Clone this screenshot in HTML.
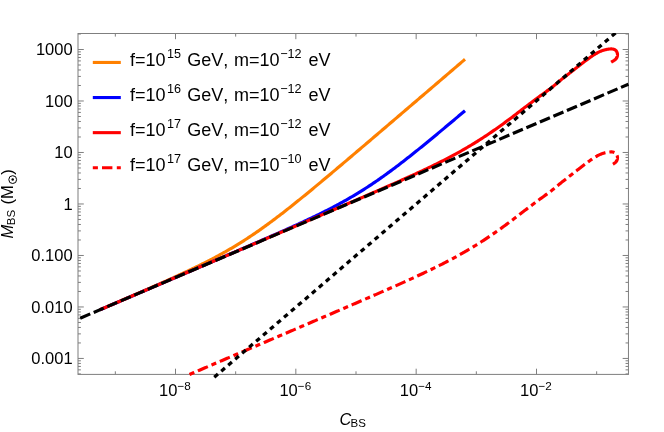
<!DOCTYPE html>
<html><head><meta charset="utf-8"><title>plot</title>
<style>
html,body{margin:0;padding:0;background:#fff;}
body{width:664px;height:432px;overflow:hidden;font-family:"Liberation Sans",sans-serif;}
svg{display:block;will-change:transform}
text{font-family:"Liberation Sans",sans-serif;fill:#000;font-kerning:none}
</style></head><body>
<svg width="664" height="432" viewBox="0 0 664 432">
<rect width="664" height="432" fill="#fff"/>
<defs><clipPath id="cp"><rect x="78.00" y="33.00" width="550.45" height="346.90"/></clipPath></defs>
<g stroke="#7f7f7f" stroke-width="1" fill="none">
<rect x="78.00" y="33.50" width="550.45" height="340.90"/>
<path d="M78.00,373.95 h2.90 M628.45,373.95 h-2.90"/>
<path d="M78.00,369.87 h2.90 M628.45,369.87 h-2.90"/>
<path d="M78.00,366.43 h2.90 M628.45,366.43 h-2.90"/>
<path d="M78.00,363.44 h2.90 M628.45,363.44 h-2.90"/>
<path d="M78.00,360.81 h2.90 M628.45,360.81 h-2.90"/>
<path d="M78.00,358.45 h5.80 M628.45,358.45 h-5.80"/>
<path d="M78.00,342.95 h2.90 M628.45,342.95 h-2.90"/>
<path d="M78.00,333.88 h2.90 M628.45,333.88 h-2.90"/>
<path d="M78.00,327.45 h2.90 M628.45,327.45 h-2.90"/>
<path d="M78.00,322.46 h2.90 M628.45,322.46 h-2.90"/>
<path d="M78.00,318.38 h2.90 M628.45,318.38 h-2.90"/>
<path d="M78.00,314.93 h2.90 M628.45,314.93 h-2.90"/>
<path d="M78.00,311.95 h2.90 M628.45,311.95 h-2.90"/>
<path d="M78.00,309.31 h2.90 M628.45,309.31 h-2.90"/>
<path d="M78.00,306.96 h5.80 M628.45,306.96 h-5.80"/>
<path d="M78.00,291.46 h2.90 M628.45,291.46 h-2.90"/>
<path d="M78.00,282.39 h2.90 M628.45,282.39 h-2.90"/>
<path d="M78.00,275.96 h2.90 M628.45,275.96 h-2.90"/>
<path d="M78.00,270.97 h2.90 M628.45,270.97 h-2.90"/>
<path d="M78.00,266.89 h2.90 M628.45,266.89 h-2.90"/>
<path d="M78.00,263.44 h2.90 M628.45,263.44 h-2.90"/>
<path d="M78.00,260.46 h2.90 M628.45,260.46 h-2.90"/>
<path d="M78.00,257.82 h2.90 M628.45,257.82 h-2.90"/>
<path d="M78.00,255.47 h5.80 M628.45,255.47 h-5.80"/>
<path d="M78.00,239.97 h2.90 M628.45,239.97 h-2.90"/>
<path d="M78.00,230.90 h2.90 M628.45,230.90 h-2.90"/>
<path d="M78.00,224.47 h2.90 M628.45,224.47 h-2.90"/>
<path d="M78.00,219.48 h2.90 M628.45,219.48 h-2.90"/>
<path d="M78.00,215.40 h2.90 M628.45,215.40 h-2.90"/>
<path d="M78.00,211.95 h2.90 M628.45,211.95 h-2.90"/>
<path d="M78.00,208.97 h2.90 M628.45,208.97 h-2.90"/>
<path d="M78.00,206.33 h2.90 M628.45,206.33 h-2.90"/>
<path d="M78.00,203.97 h5.80 M628.45,203.97 h-5.80"/>
<path d="M78.00,188.47 h2.90 M628.45,188.47 h-2.90"/>
<path d="M78.00,179.41 h2.90 M628.45,179.41 h-2.90"/>
<path d="M78.00,172.97 h2.90 M628.45,172.97 h-2.90"/>
<path d="M78.00,167.98 h2.90 M628.45,167.98 h-2.90"/>
<path d="M78.00,163.91 h2.90 M628.45,163.91 h-2.90"/>
<path d="M78.00,160.46 h2.90 M628.45,160.46 h-2.90"/>
<path d="M78.00,157.47 h2.90 M628.45,157.47 h-2.90"/>
<path d="M78.00,154.84 h2.90 M628.45,154.84 h-2.90"/>
<path d="M78.00,152.48 h5.80 M628.45,152.48 h-5.80"/>
<path d="M78.00,136.98 h2.90 M628.45,136.98 h-2.90"/>
<path d="M78.00,127.92 h2.90 M628.45,127.92 h-2.90"/>
<path d="M78.00,121.48 h2.90 M628.45,121.48 h-2.90"/>
<path d="M78.00,116.49 h2.90 M628.45,116.49 h-2.90"/>
<path d="M78.00,112.42 h2.90 M628.45,112.42 h-2.90"/>
<path d="M78.00,108.97 h2.90 M628.45,108.97 h-2.90"/>
<path d="M78.00,105.98 h2.90 M628.45,105.98 h-2.90"/>
<path d="M78.00,103.35 h2.90 M628.45,103.35 h-2.90"/>
<path d="M78.00,100.99 h5.80 M628.45,100.99 h-5.80"/>
<path d="M78.00,85.49 h2.90 M628.45,85.49 h-2.90"/>
<path d="M78.00,76.42 h2.90 M628.45,76.42 h-2.90"/>
<path d="M78.00,69.99 h2.90 M628.45,69.99 h-2.90"/>
<path d="M78.00,65.00 h2.90 M628.45,65.00 h-2.90"/>
<path d="M78.00,60.92 h2.90 M628.45,60.92 h-2.90"/>
<path d="M78.00,57.48 h2.90 M628.45,57.48 h-2.90"/>
<path d="M78.00,54.49 h2.90 M628.45,54.49 h-2.90"/>
<path d="M78.00,51.86 h2.90 M628.45,51.86 h-2.90"/>
<path d="M78.00,49.50 h5.80 M628.45,49.50 h-5.80"/>
<path d="M78.00,34.00 h2.90 M628.45,34.00 h-2.90"/>
<path d="M115.33,374.40 v-3.10 M115.33,33.50 v3.10"/>
<path d="M175.50,374.40 v-5.70 M175.50,33.50 v5.70"/>
<path d="M235.67,374.40 v-3.10 M235.67,33.50 v3.10"/>
<path d="M295.83,374.40 v-5.70 M295.83,33.50 v5.70"/>
<path d="M356.00,374.40 v-3.10 M356.00,33.50 v3.10"/>
<path d="M416.17,374.40 v-5.70 M416.17,33.50 v5.70"/>
<path d="M476.33,374.40 v-3.10 M476.33,33.50 v3.10"/>
<path d="M536.50,374.40 v-5.70 M536.50,33.50 v5.70"/>
<path d="M596.67,374.40 v-3.10 M596.67,33.50 v3.10"/>
</g>
<g fill="none" stroke-width="3.15" stroke-linejoin="round">
<path d="M100.00,309.72 L101.22,309.19 L102.43,308.67 L103.65,308.15 L104.87,307.63 L106.08,307.10 L107.30,306.58 L108.52,306.06 L109.73,305.53 L110.95,305.01 L112.17,304.48 L113.38,303.96 L114.60,303.44 L115.82,302.91 L117.03,302.39 L118.25,301.86 L119.47,301.34 L120.68,300.81 L121.90,300.29 L123.12,299.76 L124.33,299.24 L125.55,298.71 L126.77,298.19 L127.98,297.66 L129.20,297.13 L130.42,296.61 L131.63,296.08 L132.85,295.55 L134.07,295.02 L135.28,294.49 L136.50,293.97 L137.72,293.44 L138.93,292.91 L140.15,292.38 L141.37,291.85 L142.58,291.32 L143.80,290.79 L145.02,290.25 L146.23,289.72 L147.45,289.19 L148.67,288.66 L149.88,288.12 L151.10,287.59 L152.32,287.05 L153.53,286.52 L154.75,285.98 L155.97,285.44 L157.18,284.91 L158.40,284.37 L159.62,283.83 L160.83,283.29 L162.05,282.75 L163.27,282.20 L164.48,281.66 L165.70,281.12 L166.92,280.57 L168.13,280.02 L169.35,279.48 L170.57,278.93 L171.78,278.38 L173.00,277.83 L174.22,277.27 L175.43,276.72 L176.65,276.16 L177.87,275.61 L179.08,275.05 L180.30,274.49 L181.52,273.92 L182.73,273.36 L183.95,272.79 L185.17,272.23 L186.38,271.66 L187.60,271.08 L188.82,270.51 L190.03,269.93 L191.25,269.35 L192.47,268.77 L193.68,268.19 L194.90,267.60 L196.12,267.01 L197.33,266.42 L198.55,265.82 L199.77,265.23 L200.98,264.63 L202.20,264.02 L203.42,263.41 L204.63,262.80 L205.85,262.19 L207.07,261.57 L208.28,260.95 L209.50,260.32 L210.72,259.69 L211.93,259.06 L213.15,258.42 L214.37,257.77 L215.58,257.13 L216.80,256.48 L218.02,255.82 L219.23,255.16 L220.45,254.49 L221.67,253.82 L222.88,253.15 L224.10,252.47 L225.32,251.78 L226.53,251.09 L227.75,250.39 L228.97,249.69 L230.18,248.98 L231.40,248.27 L232.62,247.55 L233.83,246.83 L235.05,246.10 L236.27,245.36 L237.48,244.62 L238.70,243.87 L239.92,243.11 L241.13,242.35 L242.35,241.59 L243.57,240.82 L244.78,240.04 L246.00,239.25 L247.22,238.46 L248.43,237.67 L249.65,236.86 L250.87,236.05 L252.08,235.24 L253.30,234.42 L254.52,233.59 L255.73,232.76 L256.95,231.92 L258.17,231.08 L259.38,230.23 L260.60,229.37 L261.82,228.51 L263.03,227.65 L264.25,226.78 L265.47,225.90 L266.68,225.02 L267.90,224.13 L269.12,223.24 L270.33,222.34 L271.55,221.44 L272.77,220.53 L273.98,219.62 L275.20,218.71 L276.42,217.79 L277.63,216.86 L278.85,215.94 L280.07,215.00 L281.28,214.07 L282.50,213.13 L283.72,212.18 L284.93,211.23 L286.15,210.28 L287.37,209.33 L288.58,208.37 L289.80,207.41 L291.02,206.45 L292.23,205.48 L293.45,204.51 L294.67,203.54 L295.88,202.56 L297.10,201.58 L298.32,200.60 L299.53,199.62 L300.75,198.63 L301.97,197.64 L303.18,196.65 L304.40,195.66 L305.62,194.67 L306.83,193.67 L308.05,192.67 L309.27,191.67 L310.48,190.67 L311.70,189.67 L312.92,188.67 L314.13,187.66 L315.35,186.65 L316.57,185.64 L317.78,184.63 L319.00,183.62 L320.22,182.61 L321.43,181.59 L322.65,180.58 L323.87,179.56 L325.08,178.54 L326.30,177.52 L327.52,176.50 L328.73,175.48 L329.95,174.46 L331.17,173.44 L332.38,172.41 L333.60,171.39 L334.82,170.37 L336.03,169.34 L337.25,168.31 L338.47,167.29 L339.68,166.26 L340.90,165.23 L342.12,164.20 L343.33,163.17 L344.55,162.14 L345.77,161.11 L346.98,160.08 L348.20,159.05 L349.42,158.02 L350.63,156.99 L351.85,155.95 L353.07,154.92 L354.28,153.89 L355.50,152.85 L356.72,151.82 L357.93,150.79 L359.15,149.75 L360.37,148.72 L361.58,147.68 L362.80,146.65 L364.02,145.61 L365.23,144.57 L366.45,143.54 L367.67,142.50 L368.88,141.46 L370.10,140.43 L371.32,139.39 L372.53,138.35 L373.75,137.32 L374.97,136.28 L376.18,135.24 L377.40,134.20 L378.62,133.16 L379.83,132.13 L381.05,131.09 L382.27,130.05 L383.48,129.01 L384.70,127.97 L385.92,126.93 L387.13,125.89 L388.35,124.85 L389.57,123.82 L390.78,122.78 L392.00,121.74 L393.22,120.70 L394.43,119.66 L395.65,118.62 L396.87,117.58 L398.08,116.54 L399.30,115.50 L400.52,114.46 L401.73,113.42 L402.95,112.38 L404.17,111.34 L405.38,110.30 L406.60,109.26 L407.82,108.22 L409.03,107.18 L410.25,106.14 L411.47,105.10 L412.68,104.06 L413.90,103.02 L415.12,101.98 L416.33,100.94 L417.55,99.90 L418.77,98.86 L419.98,97.81 L421.20,96.77 L422.42,95.73 L423.63,94.69 L424.85,93.65 L426.07,92.61 L427.28,91.57 L428.50,90.53 L429.72,89.49 L430.93,88.45 L432.15,87.41 L433.37,86.37 L434.58,85.33 L435.80,84.28 L437.02,83.24 L438.23,82.20 L439.45,81.16 L440.67,80.12 L441.88,79.08 L443.10,78.04 L444.32,77.00 L445.53,75.96 L446.75,74.92 L447.97,73.87 L449.18,72.83 L450.40,71.79 L451.62,70.75 L452.83,69.71 L454.05,68.67 L455.27,67.63 L456.48,66.59 L457.70,65.55 L458.92,64.51 L460.13,63.46 L461.35,62.42 L462.57,61.38 L463.78,60.34 L465.00,59.30" stroke="#ff8000"/>
<path d="M100.00,309.76 L101.22,309.24 L102.43,308.72 L103.65,308.20 L104.87,307.68 L106.08,307.16 L107.30,306.64 L108.52,306.12 L109.73,305.60 L110.95,305.07 L112.17,304.55 L113.38,304.03 L114.60,303.51 L115.82,302.99 L117.03,302.47 L118.25,301.95 L119.47,301.43 L120.68,300.91 L121.90,300.39 L123.12,299.87 L124.33,299.35 L125.55,298.83 L126.77,298.31 L127.98,297.79 L129.20,297.26 L130.42,296.74 L131.63,296.22 L132.85,295.70 L134.07,295.18 L135.28,294.66 L136.50,294.14 L137.72,293.62 L138.93,293.10 L140.15,292.58 L141.37,292.06 L142.58,291.54 L143.80,291.02 L145.02,290.50 L146.23,289.97 L147.45,289.45 L148.67,288.93 L149.88,288.41 L151.10,287.89 L152.32,287.37 L153.53,286.85 L154.75,286.33 L155.97,285.81 L157.18,285.29 L158.40,284.77 L159.62,284.25 L160.83,283.73 L162.05,283.20 L163.27,282.68 L164.48,282.16 L165.70,281.64 L166.92,281.12 L168.13,280.60 L169.35,280.08 L170.57,279.56 L171.78,279.04 L173.00,278.52 L174.22,278.00 L175.43,277.47 L176.65,276.95 L177.87,276.43 L179.08,275.91 L180.30,275.39 L181.52,274.87 L182.73,274.35 L183.95,273.83 L185.17,273.31 L186.38,272.78 L187.60,272.26 L188.82,271.74 L190.03,271.22 L191.25,270.70 L192.47,270.18 L193.68,269.66 L194.90,269.14 L196.12,268.61 L197.33,268.09 L198.55,267.57 L199.77,267.05 L200.98,266.53 L202.20,266.01 L203.42,265.49 L204.63,264.96 L205.85,264.44 L207.07,263.92 L208.28,263.40 L209.50,262.88 L210.72,262.35 L211.93,261.83 L213.15,261.31 L214.37,260.79 L215.58,260.27 L216.80,259.74 L218.02,259.22 L219.23,258.70 L220.45,258.18 L221.67,257.65 L222.88,257.13 L224.10,256.61 L225.32,256.08 L226.53,255.56 L227.75,255.04 L228.97,254.51 L230.18,253.99 L231.40,253.47 L232.62,252.94 L233.83,252.42 L235.05,251.90 L236.27,251.37 L237.48,250.85 L238.70,250.32 L239.92,249.80 L241.13,249.27 L242.35,248.75 L243.57,248.22 L244.78,247.70 L246.00,247.17 L247.22,246.64 L248.43,246.12 L249.65,245.59 L250.87,245.06 L252.08,244.54 L253.30,244.01 L254.52,243.48 L255.73,242.95 L256.95,242.43 L258.17,241.90 L259.38,241.37 L260.60,240.84 L261.82,240.31 L263.03,239.78 L264.25,239.25 L265.47,238.71 L266.68,238.18 L267.90,237.65 L269.12,237.12 L270.33,236.58 L271.55,236.05 L272.77,235.51 L273.98,234.98 L275.20,234.44 L276.42,233.90 L277.63,233.37 L278.85,232.83 L280.07,232.29 L281.28,231.75 L282.50,231.21 L283.72,230.67 L284.93,230.12 L286.15,229.58 L287.37,229.03 L288.58,228.49 L289.80,227.94 L291.02,227.39 L292.23,226.84 L293.45,226.29 L294.67,225.74 L295.88,225.18 L297.10,224.63 L298.32,224.07 L299.53,223.51 L300.75,222.95 L301.97,222.39 L303.18,221.83 L304.40,221.26 L305.62,220.69 L306.83,220.12 L308.05,219.55 L309.27,218.98 L310.48,218.40 L311.70,217.82 L312.92,217.24 L314.13,216.66 L315.35,216.07 L316.57,215.48 L317.78,214.89 L319.00,214.29 L320.22,213.70 L321.43,213.10 L322.65,212.49 L323.87,211.88 L325.08,211.27 L326.30,210.66 L327.52,210.04 L328.73,209.42 L329.95,208.79 L331.17,208.17 L332.38,207.53 L333.60,206.89 L334.82,206.25 L336.03,205.61 L337.25,204.95 L338.47,204.30 L339.68,203.64 L340.90,202.97 L342.12,202.30 L343.33,201.63 L344.55,200.95 L345.77,200.26 L346.98,199.57 L348.20,198.88 L349.42,198.18 L350.63,197.47 L351.85,196.76 L353.07,196.04 L354.28,195.32 L355.50,194.59 L356.72,193.85 L357.93,193.11 L359.15,192.36 L360.37,191.61 L361.58,190.85 L362.80,190.08 L364.02,189.31 L365.23,188.53 L366.45,187.75 L367.67,186.96 L368.88,186.17 L370.10,185.36 L371.32,184.56 L372.53,183.74 L373.75,182.92 L374.97,182.10 L376.18,181.27 L377.40,180.43 L378.62,179.59 L379.83,178.74 L381.05,177.88 L382.27,177.02 L383.48,176.16 L384.70,175.29 L385.92,174.41 L387.13,173.53 L388.35,172.65 L389.57,171.75 L390.78,170.86 L392.00,169.96 L393.22,169.05 L394.43,168.14 L395.65,167.23 L396.87,166.31 L398.08,165.38 L399.30,164.46 L400.52,163.52 L401.73,162.59 L402.95,161.65 L404.17,160.70 L405.38,159.76 L406.60,158.81 L407.82,157.85 L409.03,156.90 L410.25,155.94 L411.47,154.97 L412.68,154.01 L413.90,153.04 L415.12,152.06 L416.33,151.09 L417.55,150.11 L418.77,149.13 L419.98,148.15 L421.20,147.16 L422.42,146.17 L423.63,145.18 L424.85,144.19 L426.07,143.20 L427.28,142.20 L428.50,141.21 L429.72,140.21 L430.93,139.20 L432.15,138.20 L433.37,137.20 L434.58,136.19 L435.80,135.18 L437.02,134.17 L438.23,133.16 L439.45,132.15 L440.67,131.14 L441.88,130.12 L443.10,129.11 L444.32,128.09 L445.53,127.07 L446.75,126.06 L447.97,125.04 L449.18,124.02 L450.40,122.99 L451.62,121.97 L452.83,120.95 L454.05,119.93 L455.27,118.90 L456.48,117.87 L457.70,116.85 L458.92,115.82 L460.13,114.79 L461.35,113.77 L462.57,112.74 L463.78,111.71 L465.00,110.68" stroke="#0000ff"/>
<path d="M100.00,309.76 L101.41,309.16 L102.81,308.56 L104.22,307.95 L105.63,307.35 L107.03,306.75 L108.44,306.15 L109.85,305.55 L111.25,304.95 L112.66,304.34 L114.07,303.74 L115.47,303.14 L116.88,302.54 L118.29,301.94 L119.69,301.33 L121.10,300.73 L122.51,300.13 L123.91,299.53 L125.32,298.93 L126.73,298.32 L128.13,297.72 L129.54,297.12 L130.95,296.52 L132.35,295.92 L133.76,295.31 L135.17,294.71 L136.57,294.11 L137.98,293.51 L139.39,292.91 L140.79,292.30 L142.20,291.70 L143.61,291.10 L145.01,290.50 L146.42,289.90 L147.83,289.30 L149.23,288.69 L150.64,288.09 L152.05,287.49 L153.45,286.89 L154.86,286.29 L156.27,285.68 L157.67,285.08 L159.08,284.48 L160.49,283.88 L161.89,283.28 L163.30,282.67 L164.71,282.07 L166.11,281.47 L167.52,280.87 L168.93,280.27 L170.33,279.66 L171.74,279.06 L173.15,278.46 L174.55,277.86 L175.96,277.26 L177.37,276.65 L178.77,276.05 L180.18,275.45 L181.59,274.85 L182.99,274.25 L184.40,273.65 L185.81,273.04 L187.21,272.44 L188.62,271.84 L190.03,271.24 L191.43,270.64 L192.84,270.03 L194.25,269.43 L195.65,268.83 L197.06,268.23 L198.47,267.63 L199.87,267.02 L201.28,266.42 L202.69,265.82 L204.09,265.22 L205.50,264.62 L206.91,264.01 L208.31,263.41 L209.72,262.81 L211.13,262.21 L212.53,261.61 L213.94,261.00 L215.35,260.40 L216.75,259.80 L218.16,259.20 L219.57,258.60 L220.97,257.99 L222.38,257.39 L223.79,256.79 L225.19,256.19 L226.60,255.59 L228.01,254.98 L229.41,254.38 L230.82,253.78 L232.23,253.18 L233.63,252.58 L235.04,251.98 L236.45,251.37 L237.85,250.77 L239.26,250.17 L240.67,249.57 L242.07,248.97 L243.48,248.36 L244.89,247.76 L246.29,247.16 L247.70,246.56 L249.11,245.96 L250.51,245.35 L251.92,244.75 L253.33,244.15 L254.73,243.55 L256.14,242.95 L257.55,242.34 L258.95,241.74 L260.36,241.14 L261.77,240.54 L263.17,239.93 L264.58,239.33 L265.99,238.73 L267.39,238.13 L268.80,237.53 L270.21,236.92 L271.61,236.32 L273.02,235.72 L274.43,235.12 L275.83,234.52 L277.24,233.91 L278.65,233.31 L280.05,232.71 L281.46,232.11 L282.87,231.50 L284.27,230.90 L285.68,230.30 L287.09,229.70 L288.49,229.10 L289.90,228.49 L291.31,227.89 L292.71,227.29 L294.12,226.69 L295.53,226.08 L296.93,225.48 L298.34,224.88 L299.75,224.28 L301.15,223.67 L302.56,223.07 L303.97,222.47 L305.37,221.87 L306.78,221.26 L308.19,220.66 L309.59,220.06 L311.00,219.46 L312.41,218.85 L313.81,218.25 L315.22,217.65 L316.63,217.04 L318.03,216.44 L319.44,215.84 L320.85,215.23 L322.25,214.63 L323.66,214.03 L325.07,213.42 L326.47,212.82 L327.88,212.22 L329.29,211.61 L330.69,211.01 L332.10,210.41 L333.51,209.80 L334.91,209.20 L336.32,208.59 L337.73,207.99 L339.13,207.38 L340.54,206.78 L341.95,206.18 L343.35,205.57 L344.76,204.97 L346.17,204.36 L347.57,203.75 L348.98,203.15 L350.39,202.54 L351.79,201.94 L353.20,201.33 L354.61,200.72 L356.01,200.12 L357.42,199.51 L358.83,198.90 L360.23,198.30 L361.64,197.69 L363.05,197.08 L364.45,196.47 L365.86,195.86 L367.27,195.25 L368.67,194.64 L370.08,194.03 L371.49,193.42 L372.89,192.81 L374.30,192.20 L375.71,191.59 L377.11,190.97 L378.52,190.36 L379.93,189.75 L381.33,189.13 L382.74,188.52 L384.15,187.90 L385.55,187.29 L386.96,186.67 L388.37,186.05 L389.77,185.43 L391.18,184.81 L392.59,184.19 L393.99,183.57 L395.40,182.94 L396.81,182.32 L398.21,181.69 L399.62,181.07 L401.03,180.44 L402.43,179.81 L403.84,179.18 L405.25,178.55 L406.65,177.91 L408.06,177.28 L409.47,176.64 L410.87,176.00 L412.28,175.36 L413.69,174.72 L415.09,174.07 L416.50,173.42 L417.91,172.77 L419.31,172.12 L420.72,171.47 L422.13,170.81 L423.53,170.15 L424.94,169.49 L426.35,168.82 L427.75,168.15 L429.16,167.48 L430.57,166.80 L431.97,166.12 L433.38,165.44 L434.79,164.75 L436.19,164.06 L437.60,163.36 L439.01,162.66 L440.41,161.96 L441.82,161.25 L443.23,160.54 L444.63,159.82 L446.04,159.09 L447.45,158.37 L448.85,157.63 L450.26,156.89 L451.67,156.14 L453.07,155.39 L454.48,154.63 L455.89,153.87 L457.29,153.10 L458.70,152.32 L460.11,151.54 L461.51,150.75 L462.92,149.95 L464.33,149.14 L465.73,148.33 L467.14,147.51 L468.55,146.68 L469.95,145.84 L471.36,145.00 L472.77,144.15 L474.17,143.29 L475.58,142.42 L476.99,141.55 L478.39,140.67 L479.80,139.78 L481.21,138.88 L482.61,137.97 L484.02,137.05 L485.43,136.13 L486.83,135.20 L488.24,134.26 L489.65,133.31 L491.05,132.36 L492.46,131.39 L493.87,130.42 L495.27,129.44 L496.68,128.46 L498.09,127.46 L499.49,126.46 L500.90,125.46 L502.31,124.44 L503.71,123.42 L505.12,122.39 L506.53,121.35 L507.93,120.31 L509.34,119.26 L510.75,118.21 L512.15,117.15 L513.56,116.08 L514.97,115.01 L516.37,113.94 L517.78,112.85 L519.19,111.77 L520.59,110.67 L522.00,109.58 L522.38,109.29 L522.85,108.94 L523.39,108.53 L524.00,108.07 L524.66,107.57 L525.38,107.03 L526.12,106.47 L526.89,105.89 L527.67,105.30 L528.46,104.71 L529.24,104.12 L530.00,103.55 L530.76,102.98 L531.53,102.41 L532.31,101.82 L533.11,101.22 L533.92,100.61 L534.75,99.99 L535.59,99.36 L536.44,98.72 L537.31,98.07 L538.19,97.42 L539.09,96.75 L540.00,96.08 L540.94,95.39 L541.92,94.67 L542.94,93.93 L543.98,93.18 L545.03,92.42 L546.09,91.66 L547.14,90.89 L548.18,90.14 L549.19,89.39 L550.17,88.66 L551.11,87.96 L552.00,87.28 L552.84,86.63 L553.63,86.00 L554.40,85.38 L555.13,84.77 L555.84,84.18 L556.53,83.60 L557.21,83.02 L557.88,82.45 L558.55,81.89 L559.22,81.33 L559.90,80.76 L560.60,80.20 L561.30,79.64 L561.99,79.09 L562.67,78.55 L563.36,78.02 L564.03,77.49 L564.71,76.96 L565.39,76.43 L566.08,75.90 L566.77,75.36 L567.47,74.82 L568.18,74.26 L568.90,73.70 L569.63,73.12 L570.38,72.54 L571.13,71.95 L571.90,71.35 L572.66,70.74 L573.44,70.14 L574.21,69.53 L574.99,68.92 L575.77,68.31 L576.55,67.70 L577.33,67.10 L578.10,66.50 L578.88,65.90 L579.67,65.29 L580.46,64.67 L581.26,64.05 L582.06,63.43 L582.86,62.82 L583.65,62.21 L584.44,61.61 L585.21,61.03 L585.96,60.47 L586.69,59.92 L587.40,59.40 L588.09,58.90 L588.75,58.41 L589.40,57.94 L590.04,57.49 L590.66,57.04 L591.27,56.61 L591.88,56.20 L592.47,55.79 L593.06,55.40 L593.64,55.02 L594.22,54.66 L594.80,54.30 L595.38,53.96 L595.95,53.63 L596.51,53.31 L597.07,53.00 L597.62,52.71 L598.16,52.43 L598.70,52.16 L599.23,51.91 L599.76,51.66 L600.28,51.43 L600.79,51.21 L601.30,51.00 L601.80,50.80 L602.29,50.62 L602.77,50.45 L603.24,50.30 L603.70,50.15 L604.16,50.02 L604.62,49.90 L605.07,49.78 L605.53,49.68 L605.98,49.58 L606.44,49.49 L606.90,49.40 L607.37,49.32 L607.84,49.24 L608.33,49.17 L608.81,49.10 L609.29,49.05 L609.77,49.00 L610.25,48.96 L610.71,48.94 L611.16,48.93 L611.59,48.94 L612.01,48.96 L612.40,49.00 L612.77,49.06 L613.13,49.12 L613.48,49.20 L613.82,49.29 L614.14,49.40 L614.45,49.52 L614.75,49.65 L615.03,49.81 L615.29,49.98 L615.54,50.17 L615.78,50.37 L616.00,50.60 L616.21,50.85 L616.41,51.14 L616.59,51.45 L616.77,51.78 L616.93,52.13 L617.07,52.49 L617.19,52.86 L617.30,53.23 L617.39,53.61 L617.45,53.98 L617.49,54.35 L617.50,54.70 L617.49,55.05 L617.46,55.40 L617.42,55.76 L617.35,56.13 L617.26,56.49 L617.15,56.85 L617.02,57.21 L616.86,57.56 L616.68,57.91 L616.48,58.25 L616.25,58.58 L616.00,58.90 L615.70,59.22 L615.32,59.54 L614.90,59.87 L614.44,60.19 L613.95,60.51 L613.46,60.81 L612.97,61.10 L612.50,61.38 L612.06,61.63 L611.67,61.85 L611.35,62.04 L611.10,62.20" stroke="#ff0000"/>
<path d="M189.50,374.45 L190.61,373.97 L191.72,373.50 L192.82,373.02 L193.93,372.55 L195.04,372.07 L196.15,371.60 L197.26,371.13 L198.37,370.65 L199.48,370.18 L200.58,369.70 L201.69,369.23 L202.80,368.75 L203.91,368.28 L205.02,367.81 L206.13,367.33 L207.23,366.86 L208.34,366.38 L209.45,365.91 L210.56,365.43 L211.67,364.96 L212.78,364.49 L213.88,364.01 L214.99,363.54 L216.10,363.06 L217.21,362.59 L218.32,362.11 L219.43,361.64 L220.53,361.17 L221.64,360.69 L222.75,360.22 L223.86,359.74 L224.97,359.27 L226.08,358.79 L227.18,358.32 L228.29,357.85 L229.40,357.37 L230.51,356.90 L231.62,356.42 L232.72,355.95 L233.83,355.47 L234.94,355.00 L236.05,354.53 L237.16,354.05 L238.27,353.58 L239.38,353.10 L240.48,352.63 L241.59,352.15 L242.70,351.68 L243.81,351.21 L244.92,350.73 L246.03,350.26 L247.13,349.78 L248.24,349.31 L249.35,348.83 L250.46,348.36 L251.57,347.89 L252.68,347.41 L253.78,346.94 L254.89,346.46 L256.00,345.99 L257.11,345.51 L258.22,345.04 L259.33,344.57 L260.43,344.09 L261.54,343.62 L262.65,343.14 L263.76,342.67 L264.87,342.19 L265.98,341.72 L267.08,341.24 L268.19,340.77 L269.30,340.30 L270.41,339.82 L271.52,339.35 L272.62,338.87 L273.73,338.40 L274.84,337.92 L275.95,337.45 L277.06,336.97 L278.17,336.50 L279.27,336.03 L280.38,335.55 L281.49,335.08 L282.60,334.60 L283.71,334.13 L284.82,333.65 L285.93,333.18 L287.03,332.70 L288.14,332.23 L289.25,331.76 L290.36,331.28 L291.47,330.81 L292.57,330.33 L293.68,329.86 L294.79,329.38 L295.90,328.91 L297.01,328.43 L298.12,327.96 L299.23,327.48 L300.33,327.01 L301.44,326.53 L302.55,326.06 L303.66,325.58 L304.77,325.11 L305.88,324.63 L306.98,324.16 L308.09,323.68 L309.20,323.21 L310.31,322.74 L311.42,322.26 L312.53,321.79 L313.63,321.31 L314.74,320.84 L315.85,320.36 L316.96,319.88 L318.07,319.41 L319.18,318.93 L320.28,318.46 L321.39,317.98 L322.50,317.51 L323.61,317.03 L324.72,316.56 L325.82,316.08 L326.93,315.61 L328.04,315.13 L329.15,314.66 L330.26,314.18 L331.37,313.70 L332.48,313.23 L333.58,312.75 L334.69,312.28 L335.80,311.80 L336.91,311.32 L338.02,310.85 L339.12,310.37 L340.23,309.90 L341.34,309.42 L342.45,308.94 L343.56,308.47 L344.67,307.99 L345.78,307.51 L346.88,307.04 L347.99,306.56 L349.10,306.08 L350.21,305.60 L351.32,305.13 L352.43,304.65 L353.53,304.17 L354.64,303.69 L355.75,303.21 L356.86,302.74 L357.97,302.26 L359.08,301.78 L360.18,301.30 L361.29,300.82 L362.40,300.34 L363.51,299.86 L364.62,299.38 L365.73,298.90 L366.83,298.42 L367.94,297.94 L369.05,297.46 L370.16,296.98 L371.27,296.50 L372.38,296.02 L373.48,295.54 L374.59,295.06 L375.70,294.57 L376.81,294.09 L377.92,293.61 L379.03,293.12 L380.13,292.64 L381.24,292.16 L382.35,291.67 L383.46,291.19 L384.57,290.70 L385.67,290.22 L386.78,289.73 L387.89,289.24 L389.00,288.75 L390.11,288.27 L391.22,287.78 L392.32,287.29 L393.43,286.80 L394.54,286.31 L395.65,285.82 L396.76,285.32 L397.87,284.83 L398.98,284.34 L400.08,283.84 L401.19,283.35 L402.30,282.85 L403.41,282.36 L404.52,281.86 L405.62,281.36 L406.73,280.86 L407.84,280.36 L408.95,279.86 L410.06,279.35 L411.17,278.85 L412.28,278.34 L413.38,277.84 L414.49,277.33 L415.60,276.82 L416.71,276.31 L417.82,275.80 L418.93,275.28 L420.03,274.77 L421.14,274.25 L422.25,273.73 L423.36,273.21 L424.47,272.69 L425.58,272.17 L426.68,271.64 L427.79,271.11 L428.90,270.59 L430.01,270.05 L431.12,269.52 L432.23,268.98 L433.33,268.44 L434.44,267.90 L435.55,267.36 L436.66,266.81 L437.77,266.26 L438.88,265.71 L439.98,265.16 L441.09,264.60 L442.20,264.04 L443.31,263.48 L444.42,262.91 L445.52,262.34 L446.63,261.77 L447.74,261.20 L448.85,260.62 L449.96,260.03 L451.07,259.45 L452.18,258.86 L453.28,258.26 L454.39,257.67 L455.50,257.06 L456.61,256.46 L457.72,255.85 L458.83,255.23 L459.93,254.62 L461.04,253.99 L462.15,253.37 L463.26,252.74 L464.37,252.10 L465.48,251.46 L466.58,250.82 L467.69,250.17 L468.80,249.51 L469.91,248.85 L471.02,248.19 L472.12,247.52 L473.23,246.85 L474.34,246.17 L475.45,245.49 L476.56,244.80 L477.67,244.11 L478.77,243.41 L479.88,242.71 L480.99,242.00 L482.10,241.28 L483.21,240.57 L484.32,239.84 L485.43,239.11 L486.53,238.38 L487.64,237.64 L488.75,236.90 L489.86,236.15 L490.97,235.40 L492.07,234.64 L493.18,233.88 L494.29,233.11 L495.40,232.34 L496.51,231.56 L497.62,230.78 L498.73,229.99 L499.83,229.20 L500.94,228.41 L502.05,227.61 L503.16,226.81 L504.27,226.00 L505.38,225.19 L506.48,224.37 L507.59,223.55 L508.70,222.73 L509.81,221.90 L510.92,221.07 L512.03,220.23 L513.13,219.39 L514.24,218.55 L515.35,217.70 L516.46,216.85 L517.57,216.00 L518.67,215.15 L519.78,214.29 L520.89,213.42 L522.00,212.56 L522.38,212.27 L522.85,211.92 L523.39,211.51 L524.00,211.05 L524.66,210.55 L525.38,210.01 L526.12,209.45 L526.89,208.87 L527.67,208.28 L528.46,207.69 L529.24,207.11 L530.00,206.54 L530.76,205.97 L531.53,205.39 L532.31,204.80 L533.11,204.20 L533.92,203.59 L534.75,202.97 L535.59,202.34 L536.44,201.71 L537.31,201.06 L538.19,200.40 L539.09,199.74 L540.00,199.06 L540.94,198.37 L541.92,197.65 L542.94,196.92 L543.98,196.16 L545.03,195.40 L546.09,194.64 L547.14,193.88 L548.18,193.12 L549.19,192.37 L550.17,191.65 L551.11,190.94 L552.00,190.27 L552.84,189.61 L553.63,188.98 L554.40,188.36 L555.13,187.76 L555.84,187.16 L556.53,186.58 L557.21,186.01 L557.88,185.44 L558.55,184.87 L559.22,184.31 L559.90,183.75 L560.60,183.18 L561.30,182.62 L561.99,182.07 L562.67,181.53 L563.36,181.00 L564.03,180.47 L564.71,179.94 L565.39,179.41 L566.08,178.88 L566.77,178.34 L567.47,177.80 L568.18,177.25 L568.90,176.68 L569.63,176.11 L570.38,175.52 L571.13,174.93 L571.90,174.33 L572.66,173.73 L573.44,173.12 L574.21,172.51 L574.99,171.90 L575.77,171.29 L576.55,170.69 L577.33,170.08 L578.10,169.48 L578.88,168.88 L579.67,168.27 L580.46,167.65 L581.26,167.04 L582.06,166.42 L582.86,165.80 L583.65,165.19 L584.44,164.60 L585.21,164.02 L585.96,163.45 L586.69,162.90 L587.40,162.38 L588.09,161.88 L588.75,161.40 L589.40,160.93 L590.04,160.47 L590.66,160.03 L591.27,159.60 L591.88,159.18 L592.47,158.78 L593.06,158.38 L593.64,158.01 L594.22,157.64 L594.80,157.28 L595.38,156.94 L595.95,156.61 L596.51,156.29 L597.07,155.99 L597.62,155.69 L598.16,155.41 L598.70,155.15 L599.23,154.89 L599.76,154.65 L600.28,154.41 L600.79,154.19 L601.30,153.98 L601.80,153.79 L602.29,153.60 L602.77,153.44 L603.24,153.28 L603.70,153.14 L604.16,153.00 L604.62,152.88 L605.07,152.76 L605.53,152.66 L605.98,152.56 L606.44,152.47 L606.90,152.38 L607.37,152.30 L607.84,152.22 L608.33,152.15 L608.81,152.09 L609.29,152.03 L609.77,151.98 L610.25,151.95 L610.71,151.92 L611.16,151.91 L611.59,151.92 L612.01,151.94 L612.40,151.98 L612.77,152.04 L613.13,152.11 L613.48,152.18 L613.82,152.28 L614.14,152.38 L614.45,152.50 L614.75,152.64 L615.03,152.79 L615.29,152.96 L615.54,153.15 L615.78,153.36 L616.00,153.58 L616.21,153.84 L616.41,154.12 L616.59,154.43 L616.77,154.76 L616.93,155.11 L617.07,155.47 L617.19,155.84 L617.30,156.22 L617.39,156.59 L617.45,156.97 L617.49,157.33 L617.50,157.68 L617.49,158.03 L617.46,158.39 L617.42,158.75 L617.35,159.11 L617.26,159.47 L617.15,159.83 L617.02,160.19 L616.86,160.55 L616.68,160.89 L616.48,161.23 L616.25,161.56 L616.00,161.88 L615.70,162.20 L615.32,162.52 L614.90,162.85 L614.44,163.17 L613.95,163.49 L613.46,163.80 L612.97,164.09 L612.50,164.36 L612.06,164.61 L611.67,164.83 L611.35,165.03 L611.10,165.18" stroke="#ff0000" stroke-dasharray="10.85 3.95 5.15 3.95" stroke-dashoffset="14.8"/>
<path d="M80.20,318.20 L628.40,84.25" stroke="#000" stroke-dasharray="10.9 3.8"/>
<g clip-path="url(#cp)"><path d="M214.28,377.16 L618.00,30.87" stroke="#000" stroke-width="3.3" stroke-dasharray="4.8 4.39"/></g>
</g>
<text x="72.6" y="55.20" text-anchor="end" font-size="16.5">1000</text>
<text x="72.6" y="106.69" text-anchor="end" font-size="16.5">100</text>
<text x="72.6" y="158.18" text-anchor="end" font-size="16.5">10</text>
<text x="72.6" y="209.67" text-anchor="end" font-size="16.5">1</text>
<text x="72.6" y="261.17" text-anchor="end" font-size="16.5">0.100</text>
<text x="72.6" y="312.66" text-anchor="end" font-size="16.5">0.010</text>
<text x="72.6" y="364.15" text-anchor="end" font-size="16.5">0.001</text>
<text x="159.10" y="396.1" font-size="16.5">10</text><text x="177.50" y="389.8" font-size="11.7">−8</text>
<text x="279.43" y="396.1" font-size="16.5">10</text><text x="297.83" y="389.8" font-size="11.7">−6</text>
<text x="399.77" y="396.1" font-size="16.5">10</text><text x="418.17" y="389.8" font-size="11.7">−4</text>
<text x="520.10" y="396.1" font-size="16.5">10</text><text x="538.50" y="389.8" font-size="11.7">−2</text>
<path d="M92.8,62.45 H120.8" stroke="#ff8000" stroke-width="3.1" fill="none"/>
<text x="130.0" y="66.00" font-size="18">f=10</text>
<text x="167.0" y="58.00" font-size="12.6">15</text>
<text x="187.2" y="66.00" font-size="18">GeV,</text>
<text x="234.0" y="66.00" font-size="18">m=10</text>
<text x="280.2" y="58.00" font-size="12.6">−12</text>
<text x="308.6" y="66.00" font-size="18">eV</text>
<path d="M92.8,97.55 H120.8" stroke="#0000ff" stroke-width="3.1" fill="none"/>
<text x="130.0" y="101.15" font-size="18">f=10</text>
<text x="167.0" y="93.15" font-size="12.6">16</text>
<text x="187.2" y="101.15" font-size="18">GeV,</text>
<text x="234.0" y="101.15" font-size="18">m=10</text>
<text x="280.2" y="93.15" font-size="12.6">−12</text>
<text x="308.6" y="101.15" font-size="18">eV</text>
<path d="M92.8,132.65 H120.8" stroke="#ff0000" stroke-width="3.1" fill="none"/>
<text x="130.0" y="136.25" font-size="18">f=10</text>
<text x="167.0" y="128.25" font-size="12.6">17</text>
<text x="187.2" y="136.25" font-size="18">GeV,</text>
<text x="234.0" y="136.25" font-size="18">m=10</text>
<text x="280.2" y="128.25" font-size="12.6">−12</text>
<text x="308.6" y="136.25" font-size="18">eV</text>
<path d="M92.8,167.80 H97.9 M102,167.80 H112.4 M116.8,167.80 H120.8" stroke="#ff0000" stroke-width="3.1" fill="none"/>
<text x="130.0" y="171.40" font-size="18">f=10</text>
<text x="167.0" y="163.40" font-size="12.6">17</text>
<text x="187.2" y="171.40" font-size="18">GeV,</text>
<text x="234.0" y="171.40" font-size="18">m=10</text>
<text x="280.2" y="163.40" font-size="12.6">−10</text>
<text x="308.6" y="171.40" font-size="18">eV</text>
<text x="339.6" y="424.6" font-size="16.3" font-style="italic">C</text><text x="350.6" y="426.6" font-size="11.5">BS</text>
<g transform="translate(13.0,238.6) rotate(-90)"><text x="0" y="0" font-size="16.5" font-style="italic">M</text><text x="13.4" y="2.3" font-size="11.5">BS</text><text x="34.2" y="0" font-size="16.5">(M</text><circle cx="59.0" cy="-0.3" r="3.9" fill="none" stroke="#000" stroke-width="1"/><circle cx="59.0" cy="-0.3" r="1.25" fill="#000"/><text x="63.8" y="0" font-size="16.5">)</text></g>
</svg></body></html>
